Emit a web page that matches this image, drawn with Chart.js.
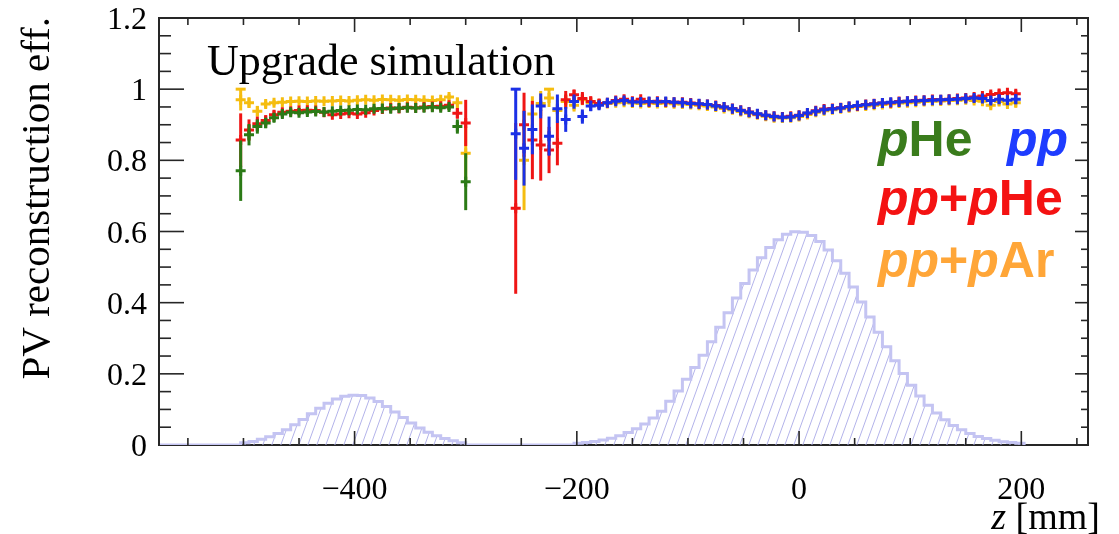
<!DOCTYPE html>
<html>
<head>
<meta charset="utf-8">
<title>PV reconstruction efficiency</title>
<script src="https://cdn.jsdelivr.net/npm/chart.js@4.4.1/dist/chart.umd.min.js"></script>
<style>
  html, body { margin: 0; padding: 0; background: #fff; }
  canvas { display: block; }
</style>
</head>
<body>
<canvas id="chart" width="1119" height="534"></canvas>
<script>
// Bin grid of the efficiency points (mm)
const zStep = 7.5;
const zLeftStart = -502.5;   // SMOG2 cell region
const zRightStart = -255;    // beam-beam region

// pHe (left region only)
const effPHeLeft = [0.771, 0.872, 0.895, 0.905, 0.920, 0.930, 0.935, 0.934, 0.936, 0.937, 0.936, 0.938, 0.940, 0.941,
  0.943, 0.942, 0.945, 0.946, 0.945, 0.947, 0.948, 0.947, 0.948, 0.949, 0.948, 0.950, 0.895, 0.740];
const errPHeLeft = [0.085, 0.030, 0.020, 0.015, 0.012, 0.010, 0.008, 0.007, 0.007, 0.006, 0.006, 0.006, 0.006, 0.006,
  0.006, 0.006, 0.006, 0.006, 0.006, 0.006, 0.006, 0.006, 0.006, 0.006, 0.007, 0.008, 0.020, 0.080];

// pp+pHe
const effPpPHeLeft = [0.857, 0.885, 0.903, 0.912, 0.928, 0.935, 0.938, 0.940, 0.941, 0.940, 0.935, 0.928, 0.930, 0.932,
  0.930, 0.934, 0.940, 0.944, 0.947, 0.946, 0.949, 0.948, 0.950, 0.951, 0.952, 0.955, 0.932, 0.905];
const errPpPHeLeft = [0.075, 0.030, 0.020, 0.015, 0.012, 0.010, 0.008, 0.007, 0.007, 0.006, 0.006, 0.006, 0.006, 0.006,
  0.006, 0.006, 0.006, 0.006, 0.006, 0.006, 0.006, 0.006, 0.006, 0.006, 0.007, 0.008, 0.015, 0.065];
const effPpPHeRight = [0.665, 0.900, 0.857, 0.843, 0.829, 0.848, 0.970, 0.984, 0.974, 0.965, 0.960, 0.962, 0.968, 0.972,
  0.966, 0.972, 0.964, 0.966, 0.964, 0.963, 0.963, 0.961, 0.958, 0.957, 0.954, 0.950, 0.946, 0.941, 0.936, 0.930,
  0.927, 0.924, 0.922, 0.924, 0.927, 0.932, 0.939, 0.944, 0.946, 0.948, 0.951, 0.953, 0.957, 0.959, 0.961, 0.962,
  0.965, 0.966, 0.968, 0.969, 0.971, 0.970, 0.972, 0.974, 0.975, 0.978, 0.981, 0.985, 0.988, 0.990, 0.987];
const errPpPHeRight = [0.240, 0.090, 0.110, 0.100, 0.065, 0.062, 0.025, 0.015, 0.018, 0.015, 0.012, 0.010, 0.008, 0.007,
  0.006, 0.006, 0.005, 0.005, 0.005, 0.005, 0.005, 0.005, 0.005, 0.005, 0.005, 0.005, 0.005, 0.005, 0.005, 0.005,
  0.005, 0.005, 0.005, 0.005, 0.005, 0.005, 0.005, 0.005, 0.005, 0.005, 0.005, 0.005, 0.005, 0.005, 0.005, 0.005,
  0.005, 0.005, 0.005, 0.005, 0.005, 0.005, 0.005, 0.006, 0.007, 0.008, 0.009, 0.010, 0.011, 0.009, 0.010];

// pp+pAr
const effPpPArLeft = [0.970, 0.962, 0.938, 0.958, 0.962, 0.963, 0.965, 0.966, 0.965, 0.967, 0.966, 0.967, 0.968, 0.967,
  0.969, 0.970, 0.969, 0.971, 0.970, 0.969, 0.971, 0.970, 0.969, 0.968, 0.970, 0.978, 0.962, 0.820];
const errPpPArLeft = [0.030, 0.015, 0.015, 0.010, 0.008, 0.006, 0.005, 0.005, 0.005, 0.005, 0.005, 0.005, 0.005, 0.005,
  0.005, 0.005, 0.005, 0.005, 0.005, 0.005, 0.005, 0.005, 0.005, 0.005, 0.006, 0.008, 0.015, 0.075];
const effPpPArRight = [null, 0.800, 0.930, 0.960, 0.975, 0.940, 0.965, 0.955, 0.970, 0.962, 0.958, 0.960, 0.962, 0.963,
  0.961, 0.960, 0.961, 0.960, 0.961, 0.959, 0.958, 0.957, 0.955, 0.953, 0.950, 0.946, 0.942, 0.937, 0.932, 0.928,
  0.924, 0.920, 0.919, 0.920, 0.923, 0.929, 0.935, 0.939, 0.942, 0.945, 0.948, 0.951, 0.953, 0.955, 0.957, 0.959,
  0.961, 0.962, 0.963, 0.965, 0.966, 0.967, 0.968, 0.969, 0.970, 0.968, 0.966, 0.955, 0.965, 0.958, 0.962];
const errPpPArRight = [0, 0.140, 0.050, 0.035, 0.025, 0.030, 0.020, 0.018, 0.015, 0.012, 0.010, 0.008, 0.007, 0.006,
  0.006, 0.005, 0.005, 0.005, 0.005, 0.005, 0.005, 0.005, 0.005, 0.005, 0.005, 0.005, 0.005, 0.005, 0.005, 0.005,
  0.005, 0.005, 0.005, 0.005, 0.005, 0.005, 0.005, 0.005, 0.005, 0.005, 0.005, 0.005, 0.005, 0.005, 0.005, 0.005,
  0.005, 0.005, 0.005, 0.005, 0.005, 0.005, 0.005, 0.006, 0.007, 0.008, 0.009, 0.010, 0.011, 0.012, 0.013];

// pp (right region only)
const effPpRight = [0.875, 0.834, 0.887, 0.953, 0.868, 0.945, 0.915, 0.965, 0.923, 0.953, 0.955, 0.962, 0.966, 0.968,
  0.964, 0.964, 0.965, 0.964, 0.965, 0.963, 0.962, 0.960, 0.959, 0.957, 0.953, 0.950, 0.945, 0.940, 0.935, 0.931,
  0.927, 0.923, 0.921, 0.922, 0.926, 0.933, 0.938, 0.942, 0.944, 0.947, 0.951, 0.954, 0.956, 0.958, 0.961, 0.963,
  0.964, 0.966, 0.967, 0.968, 0.969, 0.970, 0.971, 0.972, 0.974, 0.975, 0.974, 0.968, 0.972, 0.969, 0.972];
const errPpRight = [0.130, 0.105, 0.070, 0.035, 0.055, 0.040, 0.035, 0.020, 0.020, 0.015, 0.012, 0.010, 0.008, 0.007,
  0.006, 0.006, 0.005, 0.005, 0.005, 0.005, 0.005, 0.005, 0.005, 0.005, 0.005, 0.005, 0.005, 0.005, 0.005, 0.005,
  0.005, 0.005, 0.005, 0.005, 0.005, 0.005, 0.005, 0.005, 0.005, 0.005, 0.005, 0.005, 0.005, 0.005, 0.005, 0.005,
  0.005, 0.005, 0.005, 0.005, 0.005, 0.005, 0.006, 0.006, 0.007, 0.008, 0.009, 0.010, 0.012, 0.013, 0.014];

// PV z distribution (arbitrary normalisation), 7.5 mm bins
const histStart = -577.5;
const histBinWidth = 7.5;
const histCounts = [
  0, 0, 0, 0, 0, 0, 0, 0, 0, 0,
  0.006, 0.010, 0.016, 0.023, 0.032, 0.043, 0.057, 0.072, 0.088, 0.103,
  0.117, 0.129, 0.137, 0.140, 0.139, 0.132, 0.122, 0.108, 0.093, 0.077,
  0.062, 0.048, 0.036, 0.026, 0.018, 0.012, 0.006, 0,
  0, 0, 0, 0, 0, 0, 0, 0, 0, 0, 0, 0,
  0.005, 0.007, 0.010, 0.014, 0.019, 0.026, 0.035, 0.046, 0.059, 0.076,
  0.095, 0.123, 0.152, 0.185, 0.218, 0.252, 0.290, 0.331, 0.372, 0.413,
  0.454, 0.492, 0.526, 0.555, 0.577, 0.592, 0.599, 0.598, 0.589, 0.572,
  0.548, 0.518, 0.483, 0.444, 0.402, 0.360, 0.317, 0.276, 0.237, 0.201,
  0.168, 0.138, 0.112, 0.090, 0.071, 0.055, 0.043, 0.032, 0.024, 0.018,
  0.013, 0.009, 0.007, 0.005
];

// Axes
const xMin = -576, xMax = 260;
const yMin = 0, yMax = 1.2;
const xTickValues = [-400, -200, 0, 200];
const yTickValues = [0, 0.2, 0.4, 0.6, 0.8, 1, 1.2];
const yTickLabels = ['0', '0.2', '0.4', '0.6', '0.8', '1', '1.2'];

const COLORS = {
  pHe: '#2b7a16',
  pp: '#1b30e6',
  ppPHe: '#ef1515',
  ppPAr: '#f5bd10',
  hist: '#c4c4f2',
  hatch: '#b3b3ea'
};

// Legend entries: [text, italic?] pieces
const legendEntries = [
  { parts: [['p', true], ['He', false]], color: '#3a7c1c', x: 878, y: 156 },
  { parts: [['pp', true]], color: '#1e3cff', x: 1007, y: 156 },
  { parts: [['pp', true], ['+', false], ['p', true], ['He', false]], color: '#f41212', x: 878, y: 215 },
  { parts: [['pp', true], ['+', false], ['p', true], ['Ar', false]], color: '#ffa638', x: 878, y: 277 }
];

/**
 * Turn a list of values into {x, y, err} points on the bin grid
 */
function buildPoints(zStart, values, errors) {
  return values.map((v, i) => ({ x: zStart + i * zStep, y: v, err: errors[i] }));
}

/**
 * Histogram as a stepped line: one point per lower edge, plus the last upper edge
 */
function buildHistogram() {
  const pts = histCounts.map((c, i) => ({ x: histStart + i * histBinWidth, y: c }));
  pts.push({ x: histStart + histCounts.length * histBinWidth, y: 0 });
  return pts;
}

/**
 * Diagonal hatch used for the histogram fill
 */
function makeHatch(ctx) {
  const tile = document.createElement('canvas');
  tile.width = 9;
  tile.height = 25;
  const t = tile.getContext('2d');
  t.strokeStyle = COLORS.hatch;
  t.lineWidth = 1;
  [-9, 0, 9].forEach(off => {
    t.beginPath();
    t.moveTo(off, 25);
    t.lineTo(off + 9, 0);
    t.stroke();
  });
  return ctx.createPattern(tile, 'repeat');
}

// Vertical error bars, drawn just before each dataset's markers
const errorBarPlugin = {
  id: 'errorBars',
  beforeDatasetDraw(chart, args) {
    const ds = chart.data.datasets[args.index];
    if (!ds.errorBars) return;
    const { ctx, chartArea: a, scales: { x, y } } = chart;
    ctx.save();
    ctx.beginPath();
    ctx.rect(a.left, a.top, a.right - a.left, a.bottom - a.top);
    ctx.clip();
    ctx.strokeStyle = ds.borderColor;
    ctx.lineWidth = 3;
    ds.data.forEach(pt => {
      if (pt.y === null) return;
      const px = x.getPixelForValue(pt.x);
      const hi = Math.min(pt.y + pt.err, 1);
      const top = y.getPixelForValue(hi);
      const bottom = y.getPixelForValue(pt.y - pt.err);
      ctx.beginPath();
      ctx.moveTo(px, top);
      ctx.lineTo(px, bottom);
      ctx.stroke();
      // ROOT puts a small cap where the interval hits 100%
      if (pt.y + pt.err > 0.999) {
        ctx.beginPath();
        ctx.moveTo(px - 5, top);
        ctx.lineTo(px + 5, top);
        ctx.stroke();
      }
    });
    ctx.restore();
  }
};

// ROOT-style frame (under the histogram), inward ticks, labels, titles and the text legend
const frameAxesPlugin = {
  id: 'rootFrame',
  beforeDatasetsDraw(chart) {
    const { ctx, chartArea: a } = chart;
    ctx.save();
    ctx.strokeStyle = '#262626';
    ctx.lineWidth = 2;
    ctx.strokeRect(a.left, a.top, a.right - a.left, a.bottom - a.top);
    ctx.restore();
  },
  afterDraw(chart) {
    const { ctx, chartArea: a, scales: { x, y } } = chart;
    ctx.save();
    ctx.strokeStyle = '#262626';
    ctx.lineWidth = 2;
    ctx.beginPath();
    ctx.moveTo(a.left, a.bottom);
    ctx.lineTo(a.left, a.top);
    ctx.lineTo(a.right, a.top);
    ctx.lineTo(a.right, a.bottom);
    ctx.stroke();

    ctx.lineWidth = 1.6;
    const tick = (x0, y0, x1, y1) => {
      ctx.beginPath();
      ctx.moveTo(x0, y0);
      ctx.lineTo(x1, y1);
      ctx.stroke();
    };

    // x ticks every 50 mm, long ones every 200 mm
    for (let v = -550; v <= 250; v += 50) {
      const px = x.getPixelForValue(v);
      const len = v % 200 === 0 ? 14 : 7;
      tick(px, a.bottom, px, a.bottom - len);
      tick(px, a.top, px, a.top + len);
    }
    // y ticks every 0.05, long ones every 0.2
    for (let i = 1; i < 24; i++) {
      const py = y.getPixelForValue(i * 0.05);
      const major = i % 4 === 0;
      tick(a.left, py, a.left + (major ? 25 : 12), py);
      tick(a.right, py, a.right - (major ? 13 : 7), py);
    }

    ctx.fillStyle = '#000';
    ctx.font = '32px "Liberation Serif"';
    ctx.textBaseline = 'alphabetic';
    ctx.textAlign = 'right';
    yTickValues.forEach((v, i) => {
      ctx.fillText(yTickLabels[i], a.left - 12, y.getPixelForValue(v) + 11);
    });
    ctx.textAlign = 'center';
    xTickValues.forEach(v => {
      const label = v < 0 ? '\u2212' + Math.abs(v) : String(v);
      ctx.fillText(label, x.getPixelForValue(v), a.bottom + 54);
    });

    // Axis titles
    ctx.font = '38px "Liberation Serif"';
    ctx.textAlign = 'right';
    const zw = ctx.measureText(' [mm]').width;
    ctx.fillText(' [mm]', 1100, 529);
    ctx.font = 'italic 38px "Liberation Serif"';
    ctx.fillText('z', 1100 - zw, 529);

    ctx.save();
    ctx.translate(49, a.top - 1);
    ctx.rotate(-Math.PI / 2);
    ctx.font = '41px "Liberation Serif"';
    ctx.textAlign = 'right';
    ctx.fillText('PV reconstruction eff.', 0, 0);
    ctx.restore();

    // Label inside the frame
    ctx.font = '44px "Liberation Serif"';
    ctx.textAlign = 'left';
    ctx.fillText('Upgrade simulation', 207, 75);

    // Legend as coloured text
    legendEntries.forEach(entry => {
      let cx = entry.x;
      ctx.fillStyle = entry.color;
      entry.parts.forEach(([text, italic]) => {
        ctx.font = (italic ? 'italic ' : '') + 'bold 50px "Liberation Sans"';
        ctx.fillText(text, cx, entry.y);
        cx += ctx.measureText(text).width;
      });
    });
    ctx.restore();
  }
};

const canvas = document.getElementById('chart');
const ctx = canvas.getContext('2d');

const pointStyleFor = color => ({
  borderColor: color,
  backgroundColor: color,
  pointStyle: 'cross',
  pointRadius: 5,
  pointBorderWidth: 3,
  errorBars: true
});

new Chart(ctx, {
  type: 'scatter',
  data: {
    datasets: [
      {
        label: 'pHe',
        data: buildPoints(zLeftStart, effPHeLeft, errPHeLeft),
        order: 1,
        ...pointStyleFor(COLORS.pHe)
      },
      {
        label: 'pp',
        data: buildPoints(zRightStart, effPpRight, errPpRight),
        order: 1,
        ...pointStyleFor(COLORS.pp)
      },
      {
        label: 'pp+pHe',
        data: buildPoints(zLeftStart, effPpPHeLeft, errPpPHeLeft)
          .concat(buildPoints(zRightStart, effPpPHeRight, errPpPHeRight)),
        order: 2,
        ...pointStyleFor(COLORS.ppPHe)
      },
      {
        label: 'pp+pAr',
        data: buildPoints(zLeftStart, effPpPArLeft, errPpPArLeft)
          .concat(buildPoints(zRightStart, effPpPArRight, errPpPArRight)),
        order: 3,
        ...pointStyleFor(COLORS.ppPAr)
      },
      {
        type: 'line',
        label: 'PV z',
        data: buildHistogram(),
        order: 4,
        stepped: 'before',
        showLine: true,
        pointRadius: 0,
        borderColor: COLORS.hist,
        borderWidth: 3,
        backgroundColor: makeHatch(ctx),
        fill: 'origin'
      }
    ]
  },
  options: {
    responsive: false,
    devicePixelRatio: 1,
    animation: false,
    layout: {
      padding: { left: 159, top: 18, right: 31, bottom: 89 }
    },
    scales: {
      x: { type: 'linear', min: xMin, max: xMax, display: false },
      y: { type: 'linear', min: yMin, max: yMax, display: false }
    },
    plugins: {
      legend: { display: false },
      tooltip: { enabled: false }
    }
  },
  plugins: [errorBarPlugin, frameAxesPlugin]
});
</script>
</body>
</html>
